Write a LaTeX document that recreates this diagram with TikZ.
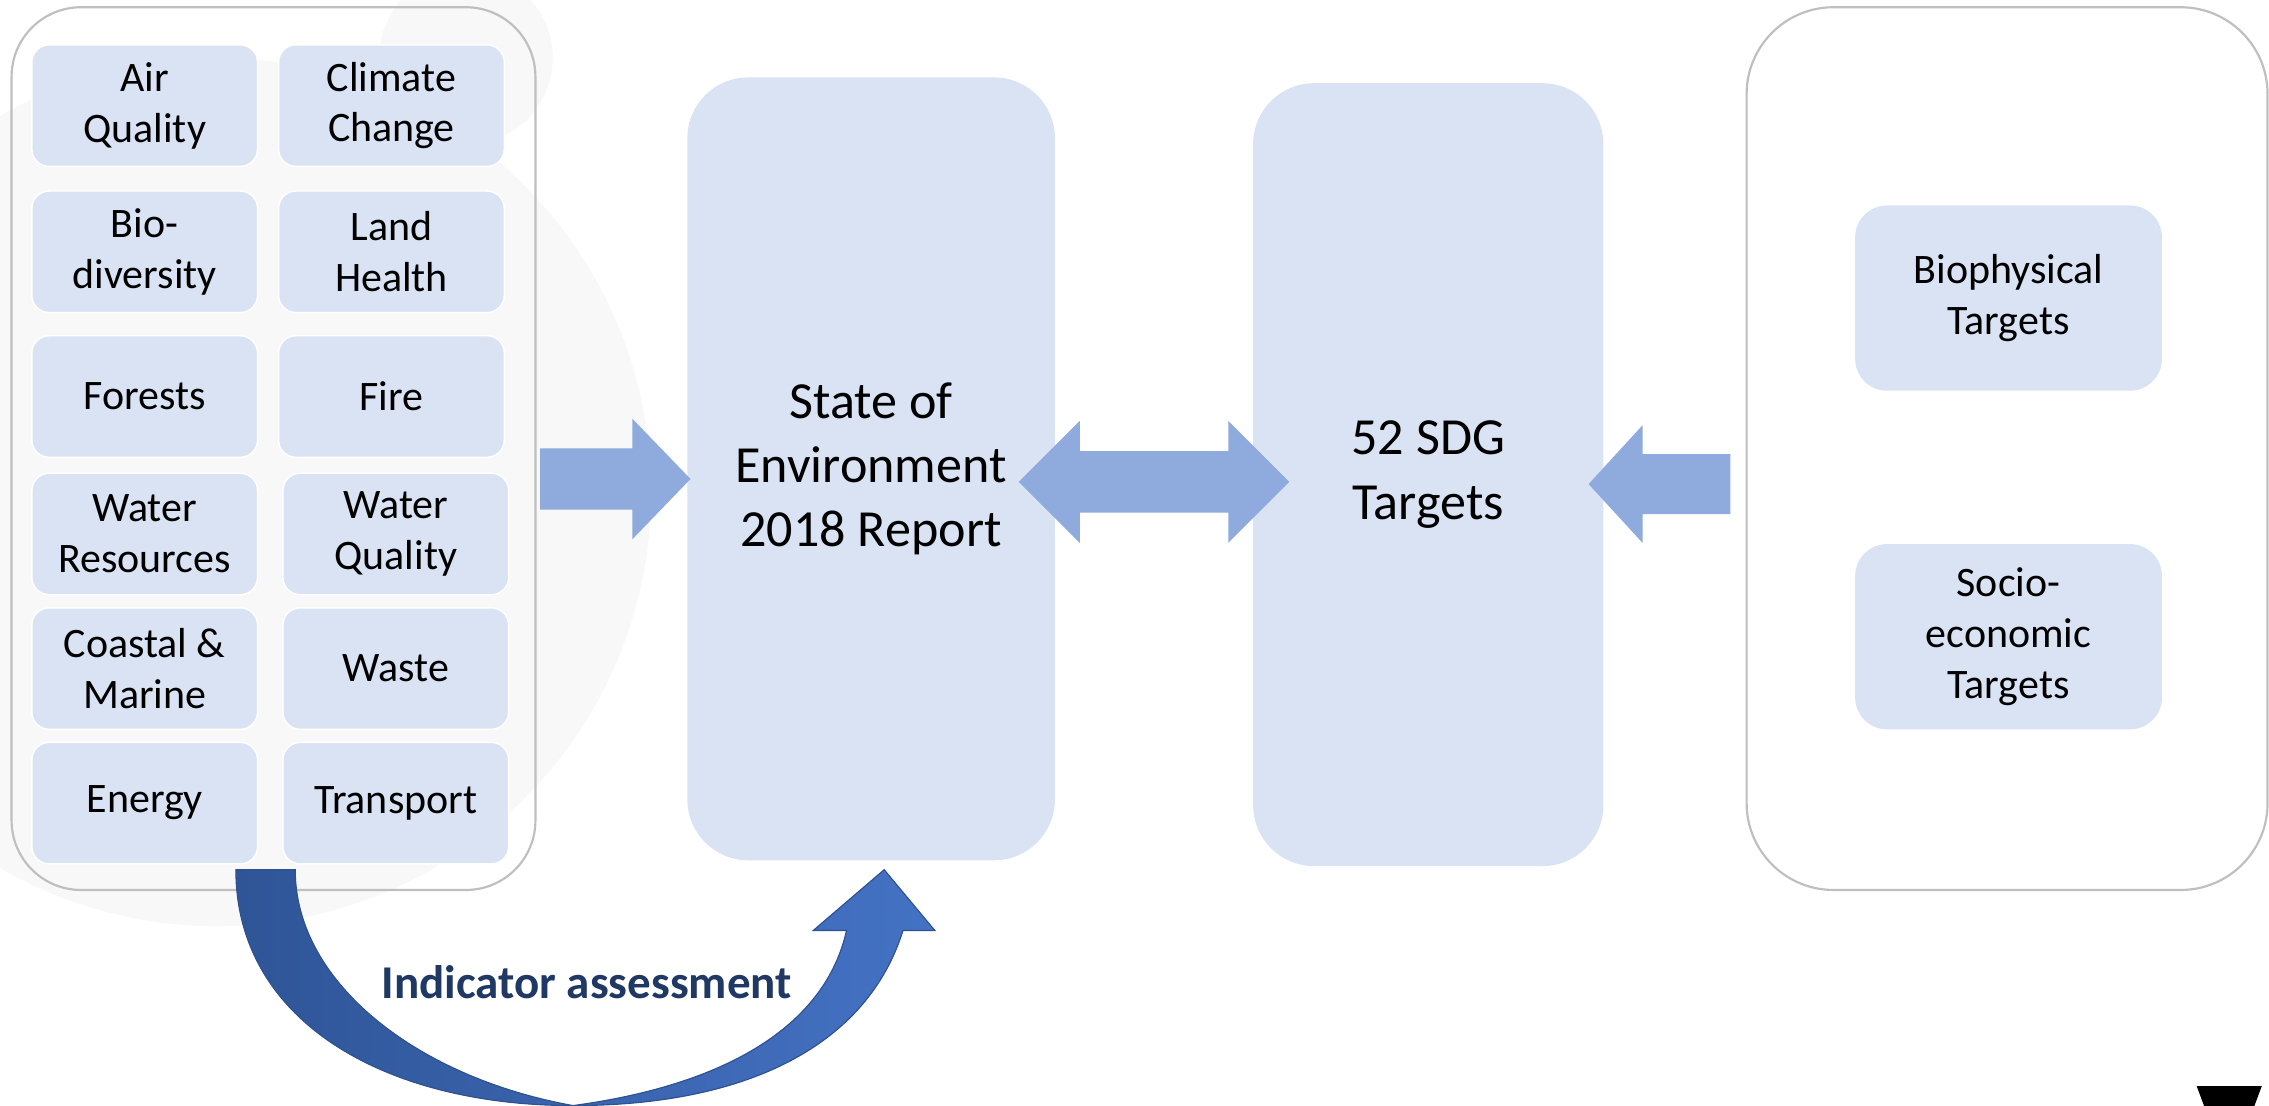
\documentclass[tikz,border=0pt]{standalone}
\usepackage{fontspec}
\setmainfont{Carlito}
\usepackage{tikz}
\usetikzlibrary{arrows.meta,positioning,calc,shapes.arrows}

\definecolor{boxblue}{HTML}{DAE3F3}
\definecolor{arrowblue}{HTML}{8FAADC}
\definecolor{framegray}{HTML}{BFBFBF}
\definecolor{swirlgray}{HTML}{F8F8F8}
\definecolor{darkarrow}{HTML}{2F5597}
\definecolor{lightarrow}{HTML}{4472C4}
\definecolor{edgearrow}{HTML}{2F528F}
\definecolor{navy}{HTML}{1F3864}

\begin{document}
\begin{tikzpicture}[
    x=1pt, y=-1pt,
    topic/.style={rectangle, rounded corners=12pt, fill=boxblue, draw=white,
                  line width=1pt, minimum width=156pt, minimum height=84pt,
                  inner sep=0pt, align=center, font=\fontsize{29}{35}\selectfont},
    report/.style={rectangle, rounded corners=42pt, fill=boxblue,
                   inner sep=0pt, align=center, font=\fontsize{36}{44.5}\selectfont},
    target/.style={rectangle, rounded corners=22pt, fill=boxblue,
                   minimum width=212pt, minimum height=128pt,
                   inner sep=0pt, align=center, font=\fontsize{29}{35}\selectfont},
    group/.style={rectangle, draw=framegray, line width=1.5pt,
                  minimum width=362pt, minimum height=610pt, inner sep=0pt},
    blockarrow/.style={fill=arrowblue, inner xsep=0pt}
]
\useasboundingbox (0,0) rectangle (1568,764);
\clip (0,0) rectangle (1568,764);

% faint background swirl
\fill[swirlgray] (150,340) circle[radius=300];
\fill[swirlgray] (322,40) circle[radius=60];

% indicator themes
\node[group, rounded corners=48pt] (themes) at (189,310) {};

\node[topic] (air)     at (100,73)    {Air\\Quality};
\node[topic] (climate) at (270.5,73)  {Climate\\Change};
\node[topic] (bio)     at (100,174)   {Bio-\\diversity};
\node[topic] (land)    at (270.5,174) {Land\\Health};
\node[topic] (forest)  at (100,274)   {Forests};
\node[topic] (fire)    at (270.5,274) {Fire};
\node[topic] (wres)    at (100,369)   {Water\\Resources};
\node[topic] (wqual)   at (273.5,369) {Water\\Quality};
\node[topic] (coast)   at (100,462)   {Coastal \&\\Marine};
\node[topic] (waste)   at (273.5,462) {Waste};
\node[topic] (energy)  at (100,555)   {Energy};
\node[topic] (trans)   at (273.5,555) {Transport};

% main blocks
\node[report, minimum width=254pt, minimum height=541pt] (soe) at (602,324)
    {State of\\Environment\\2018 Report};
\node[report, minimum width=242pt, minimum height=541pt] (sdg) at (987,328)
    {52 SDG\\Targets};

% target groups
\node[group, minimum width=360pt, rounded corners=60pt] (goals) at (1387,310) {};
\node[target] (biophys) at (1388,206) {Biophysical\\Targets};
\node[target] (socio)   at (1388,440) {Socio-\\economic\\Targets};

% block arrows
\node[blockarrow, single arrow, anchor=tail, inner ysep=21pt, minimum height=104pt,
      single arrow head extend=20.5pt, single arrow tip angle=92] (toSoe) at (373,331) {};
\node[blockarrow, double arrow, inner ysep=21pt, minimum height=187pt,
      double arrow head extend=21pt, double arrow tip angle=90] (link) at (797.5,333) {};
\node[blockarrow, single arrow, anchor=tail, shape border rotate=180, inner ysep=20.5pt,
      minimum height=98pt, single arrow head extend=20pt,
      single arrow tip angle=95] (toSdg) at (1196,334.5) {};

% curved assessment arrow
\shadedraw[left color=darkarrow, right color=lightarrow, draw=edgearrow, line width=0.8pt]
    (163,601) .. controls (163,705) and (265,764) .. (396,764)
    .. controls (520,764) and (600,720) .. (624,643)
    -- (646,643) -- (611,601) -- (562,643) -- (585,643)
    .. controls (570,710) and (500,750) .. (396,764)
    .. controls (290,745) and (204,680) .. (204,601) -- cycle;
\node[anchor=base, text=navy, font=\fontsize{32.5}{38}\selectfont\bfseries]
    (assess) at (405.5,690) {Indicator assessment};

% corner mark
\fill[black] (1518,750.5) -- (1563,750.5) -- (1540.5,811) -- cycle;

\end{tikzpicture}
\end{document}
